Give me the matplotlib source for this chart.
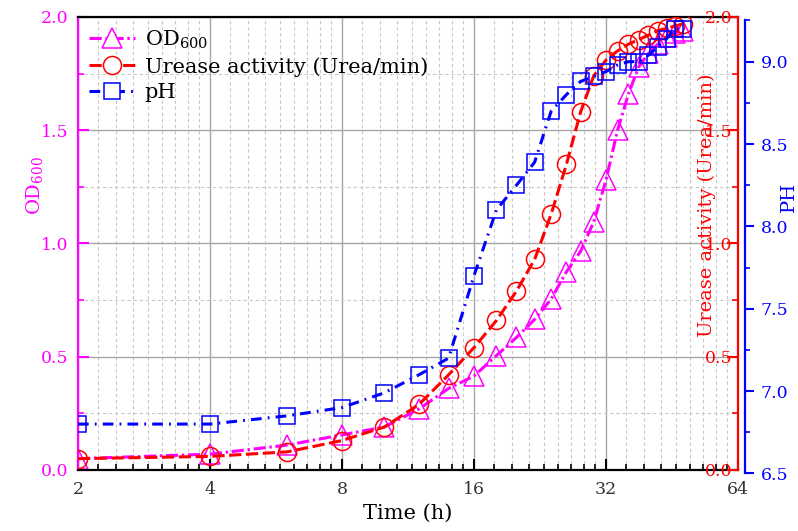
import matplotlib
matplotlib.use('Agg')
import matplotlib.pyplot as plt
from matplotlib.ticker import FixedLocator, FixedFormatter, NullFormatter, MultipleLocator, FormatStrFormatter

plt.rcParams['font.family'] = 'DejaVu Serif'
plt.rcParams['mathtext.fontset'] = 'dejavuserif'

# data
time_h = [2, 4, 6, 8, 10, 12, 14, 16, 18, 20, 22, 24,
          26, 28, 30, 32, 34, 36, 38, 40, 42, 44, 46, 48]
od600 = [0.05, 0.07, 0.11, 0.155, 0.19, 0.27, 0.36, 0.415, 0.505, 0.585, 0.665, 0.755,
         0.875, 0.965, 1.095, 1.28, 1.50, 1.66, 1.78, 1.84, 1.88, 1.91, 1.93, 1.94]
urease = [0.05, 0.06, 0.08, 0.13, 0.19, 0.29, 0.42, 0.54, 0.66, 0.79, 0.93, 1.13,
          1.35, 1.58, 1.74, 1.81, 1.85, 1.88, 1.90, 1.92, 1.94, 1.95, 1.96, 1.97]
ph = [6.80, 6.80, 6.85, 6.90, 6.99, 7.10, 7.20, 7.70, 8.10, 8.25, 8.39, 8.70,
      8.80, 8.88, 8.91, 8.94, 8.98, 9.00, 9.00, 9.04, 9.09, 9.14, 9.20, 9.20]

x_ticks = [2, 4, 8, 16, 32, 64]
x_tick_labels = ['2', '4', '8', '16', '32', '64']

MAG = '#ff00ff'
RED = '#ff0000'
BLUE = '#0000ff'

fig = plt.figure(figsize=(7.98, 5.31), dpi=100)
pos = [0.0977, 0.1149, 0.8271, 0.8531]
ax = fig.add_axes(pos)
ax.set_xscale('log', base=2)
ax.set_xlim(2, 64)

ax2 = ax.twinx()
# pH axis sits a few pixels lower than the main frame, so it gets its own axes
ax3 = fig.add_axes([pos[0], pos[1] - 3.5 / 531, pos[2], pos[3]], sharex=ax)
ax3.patch.set_visible(False)
ax3.yaxis.tick_right()
ax3.yaxis.set_label_position('right')
ax3.xaxis.set_visible(False)

# x axis ticks: origin style, 8 minor ticks per octave
minor_x = [b + k * b / 9 for b in x_ticks[:-1] for k in range(1, 9)]
ax.xaxis.set_major_locator(FixedLocator(x_ticks))
ax.xaxis.set_major_formatter(FixedFormatter(x_tick_labels))
ax.xaxis.set_minor_locator(FixedLocator(minor_x))
ax.xaxis.set_minor_formatter(NullFormatter())
ax.tick_params(axis='x', which='both', direction='in', top=False, colors='black',
               labelcolor='#333333', labelsize=12.5, pad=8)
ax.tick_params(axis='x', which='major', length=8, width=1.5)
ax.tick_params(axis='x', which='minor', length=4, width=1.2)

# left axis OD600
ax.set_ylim(0, 2)
ax.yaxis.set_major_locator(MultipleLocator(0.5))
ax.yaxis.set_minor_locator(MultipleLocator(0.25))
ax.yaxis.set_major_formatter(FormatStrFormatter('%.1f'))
ax.tick_params(axis='y', which='both', direction='in', colors=MAG, labelsize=12.5, pad=7)
ax.tick_params(axis='y', which='major', length=8, width=1.5)
ax.tick_params(axis='y', which='minor', length=4, width=1.2)

ax.grid(which='major', color='#a8a8a8', lw=1.0, ls='-')
ax.grid(which='minor', color='#c8c8c8', lw=0.8, ls=(0, (3, 2.5)))
ax.set_axisbelow(True)

for s in ['top', 'bottom']:
    ax.spines[s].set_color('black')
    ax.spines[s].set_linewidth(1.6)
ax.spines['left'].set_color(MAG)
ax.spines['left'].set_linewidth(1.6)
ax.spines['right'].set_visible(False)

# right axis urease (labels inside the frame)
ax2.set_ylim(0, 2)
ax2.yaxis.set_major_locator(MultipleLocator(0.5))
ax2.yaxis.set_minor_locator(MultipleLocator(0.25))
ax2.yaxis.set_major_formatter(FormatStrFormatter('%.1f'))
ax2.tick_params(axis='y', which='both', direction='in', colors=RED, labelsize=12.5, pad=-4)
ax2.tick_params(axis='y', which='major', length=8, width=1.5)
ax2.tick_params(axis='y', which='minor', length=4, width=1.2)
for t in ax2.get_yticklabels():
    t.set_horizontalalignment('right')
for s in ['top', 'bottom', 'left']:
    ax2.spines[s].set_visible(False)
ax2.spines['right'].set_color(RED)
ax2.spines['right'].set_linewidth(1.6)

# pH axis
ax3.set_ylim(6.5, 9.25)
ax3.yaxis.set_major_locator(MultipleLocator(0.5))
ax3.yaxis.set_minor_locator(MultipleLocator(0.25))
ax3.yaxis.set_major_formatter(FormatStrFormatter('%.1f'))
ax3.spines['right'].set_position(('outward', 5))
ax3.tick_params(axis='y', which='both', direction='out', colors=BLUE, labelsize=12.5, pad=5)
ax3.tick_params(axis='y', which='major', length=6.5, width=1.5)
ax3.tick_params(axis='y', which='minor', length=3.6, width=1.2)
for s in ['top', 'bottom', 'left']:
    ax3.spines[s].set_visible(False)
ax3.spines['right'].set_color(BLUE)
ax3.spines['right'].set_linewidth(1.6)

l1, = ax.plot(time_h, od600, color=MAG, lw=2.2, ls=(0, (4, 1.2, 0.8, 1.2)),
              marker='^', ms=14.5, mfc='none', mec=MAG, mew=1.1, label='OD$_{600}$')
l2, = ax2.plot(time_h, urease, color=RED, lw=2.2, ls=(0, (4, 1.5)),
               marker='o', ms=13, mfc='none', mec=RED, mew=1.1,
               label='Urease activity (Urea/min)')
l3, = ax3.plot(time_h, ph, color=BLUE, lw=2.2, ls=(0, (3.5, 2, 0.6, 2)),
               marker='s', ms=11, mfc='none', mec=BLUE, mew=1.1, label='pH')

leg = ax3.legend(handles=[l1, l2, l3], loc='upper left', frameon=False, fontsize=15,
                 handlelength=2.2, handletextpad=0.45, labelspacing=0.3,
                 borderaxespad=0.15, bbox_to_anchor=(0.0, 1.0 + 3.5 / 453))
for h in leg.legend_handles:
    h.set_markerfacecolor('white')

ax.set_xlabel('Time (h)', fontsize=15, labelpad=4)
ax.set_ylabel('OD$_{600}$', color=MAG, fontsize=14)
ax.yaxis.set_label_coords(-0.05, 0.627)
ax2.text(0.953, 0.585, 'Urease activity (Urea/min)', transform=ax2.transAxes,
         rotation=90, ha='center', va='center', color=RED, fontsize=14)
fig.text(0.989, 0.629, 'PH', rotation=90, ha='center', va='center',
         color=BLUE, fontsize=14)

fig.savefig('out.png', dpi=100)
